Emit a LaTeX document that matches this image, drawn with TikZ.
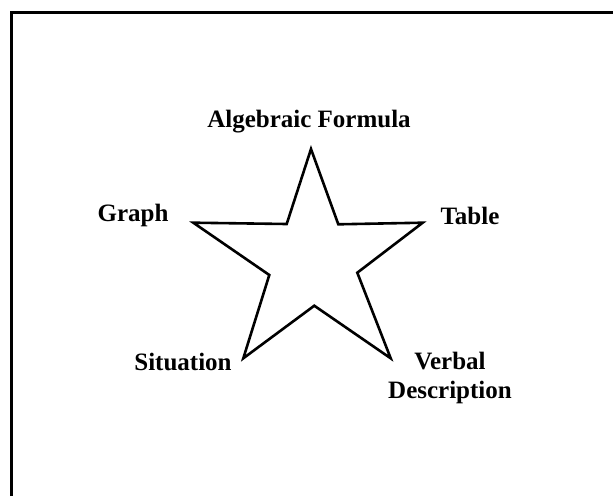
\documentclass[tikz,border=0pt]{standalone}
\usepackage{fontspec}
\setmainfont{Liberation Serif}
\begin{document}
\begin{tikzpicture}[x=1pt,y=-1pt,
  lbl/.style={font=\fontsize{25}{28}\selectfont\bfseries, inner sep=0pt, align=center},
  starline/.style={line width=2.6pt, line join=miter}]
\useasboundingbox (0,0) rectangle (613,496);
\fill[white] (0,0) rectangle (613,496);
% frame (only left and top edges visible)
\draw[line width=3pt] (11,496) -- (11,12.5) -- (613,12.5);
% star
\draw[starline] (311,149) -- (338.3,224.3) -- (422.7,222.7) -- (357.3,272.7)
  -- (390.7,358.3) -- (314.3,305.7) -- (243.3,358.3) -- (269.3,275)
  -- (193.3,222.7) -- (286.7,224) -- cycle;
% labels
\node[lbl] (alg) at (309,122) {Algebraic Formula};
\node[lbl] (graph) at (133,215) {Graph};
\node[lbl] (table) at (470,216) {Table};
\node[lbl] (sit) at (183,362) {Situation};
\node[lbl] (verb) at (450,378) {Verbal\\[1pt]Description};
\end{tikzpicture}
\end{document}
